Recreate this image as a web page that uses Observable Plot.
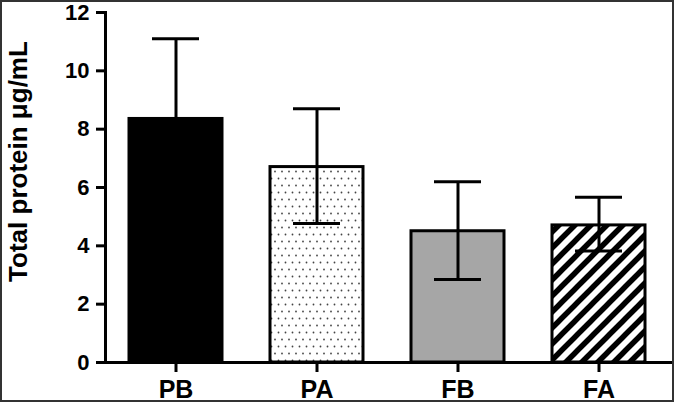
<!DOCTYPE html>
<html>
<head>
<meta charset="utf-8">
<script src="https://cdn.jsdelivr.net/npm/d3@7"></script>
<script src="https://cdn.jsdelivr.net/npm/@observablehq/plot@0.6"></script>
<style>
  html, body { margin: 0; padding: 0; background: white; }
  #chart svg { display: block; outline: 2px solid #333; outline-offset: -2px; }
</style>
</head>
<body>
<div id="chart"></div>
<script>
const categories = ["PB", "PA", "FB", "FA"];
const means = [8.35, 6.7, 4.5, 4.7];
const lowers = [5.6, 4.77, 2.85, 3.82];
const uppers = [11.1, 8.7, 6.2, 5.67];
const yTicks = [0, 2, 4, 6, 8, 10, 12];
const yLabel = "Total protein μg/mL";

const data = categories.map((name, i) => ({name, mean: means[i], lower: lowers[i], upper: uppers[i]}));

const svg = Plot.plot({
  width: 674,
  height: 402,
  marginLeft: 105,
  marginRight: 5,
  marginTop: 12,
  marginBottom: 40,
  style: {fontFamily: "'Liberation Sans', Arial, sans-serif", fontWeight: "bold", fontSize: "20px", color: "black", background: "white"},
  x: {domain: categories, paddingInner: 0.343, paddingOuter: 0.163, axis: null},
  y: {domain: [0, 12], axis: null},
  color: {type: "ordinal", domain: categories, range: ["black", "url(#dots)", "#a6a6a6", "url(#hatch)"]},
  marks: [
    Plot.barY(data, {x: "name", y: "mean", fill: "name", stroke: "black", strokeWidth: 3}),
    Plot.ruleX(data, {x: "name", y1: "lower", y2: "upper", stroke: "black", strokeWidth: 3}),
    Plot.tickY(data, {x: "name", y: "upper", stroke: "black", strokeWidth: 3, insetLeft: 23, insetRight: 23}),
    Plot.tickY(data, {x: "name", y: "lower", stroke: "black", strokeWidth: 3, insetLeft: 23, insetRight: 23}),
    Plot.ruleY([0], {stroke: "black", strokeWidth: 3, insetRight: -5}),
    Plot.frame({anchor: "left", stroke: "black", strokeWidth: 3}),
    Plot.axisY({ticks: yTicks, tickSize: 9, tickPadding: 7, strokeWidth: 3, fontSize: 22, fontWeight: "bold", label: null}),
    Plot.axisX({tickSize: 10, tickPadding: 8, strokeWidth: 3, fontSize: 25, fontWeight: "bold", label: null}),
    Plot.text([yLabel], {text: d => d, frameAnchor: "left", textAnchor: "middle", rotate: -90, dx: -87, dy: -26, fontSize: 26, fontWeight: "bold", fill: "black"})
  ]
});

const defs = d3.select(svg).insert("defs", ":first-child");
const dots = defs.append("pattern").attr("id", "dots").attr("patternUnits", "userSpaceOnUse")
  .attr("width", 7).attr("height", 14);
dots.append("rect").attr("width", 7).attr("height", 14).attr("fill", "white");
dots.append("circle").attr("cx", 2).attr("cy", 3.5).attr("r", 0.9).attr("fill", "#444");
dots.append("circle").attr("cx", 5.5).attr("cy", 10.5).attr("r", 0.9).attr("fill", "#444");

const hatch = defs.append("pattern").attr("id", "hatch").attr("patternUnits", "userSpaceOnUse")
  .attr("width", 16).attr("height", 16);
hatch.append("rect").attr("width", 16).attr("height", 16).attr("fill", "white");
hatch.append("path").attr("d", "M-4,4 L4,-4 M0,16 L16,0 M12,20 L20,12")
  .attr("stroke", "black").attr("stroke-width", 5.5);

document.getElementById("chart").appendChild(svg);
</script>
</body>
</html>
